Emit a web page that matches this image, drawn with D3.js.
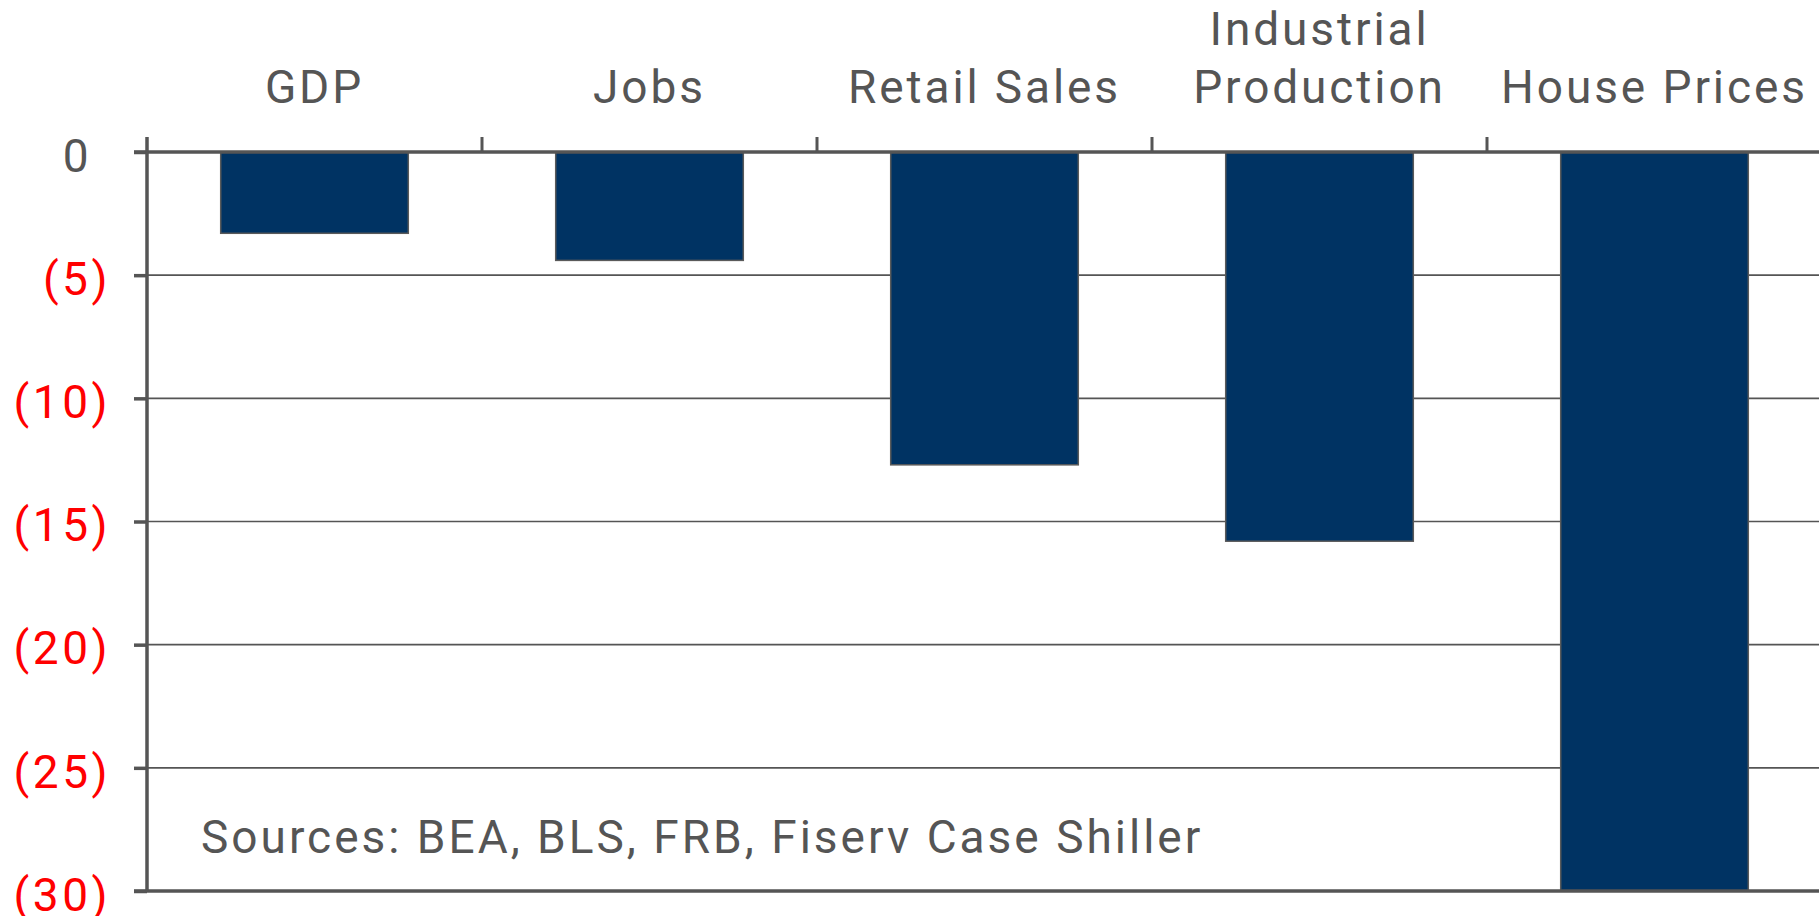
<!DOCTYPE html>
<html>
<head>
<meta charset="utf-8">
<script src="https://cdn.jsdelivr.net/npm/d3@7"></script>
<style>
  html, body { margin: 0; padding: 0; background: #fff; overflow: hidden; }
  text { font-family: Roboto, "Liberation Sans", sans-serif; }
</style>
</head>
<body>
<svg id="chart" width="1819" height="916"></svg>
<script>
// categories and values (percent change, peak to trough)
var categories = ["GDP", "Jobs", "Retail Sales", "Industrial Production", "House Prices"];
var labelLines = [["GDP"], ["Jobs"], ["Retail Sales"], ["Industrial", "Production"], ["House Prices"]];
var values = [-3.3, -4.4, -12.7, -15.8, -30];
var yTicks = [0, -5, -10, -15, -20, -25, -30];
var sourceNote = "Sources: BEA, BLS, FRB, Fiserv Case Shiller";

var svg = d3.select("#chart"),
    width = +svg.attr("width"),
    height = +svg.attr("height");

var margin = {top: 152, left: 147, bottom: 25};
var plotRight = 1822;

var x = d3.scaleBand()
    .domain(categories)
    .range([margin.left, plotRight])
    .paddingInner(0.44)
    .paddingOuter(0.22);

// band boundaries for the category ticks
var step = x.step();
var bounds = d3.range(categories.length + 1).map(function(i) {
    return margin.left + i * step;
});

var y = d3.scaleLinear()
    .domain([0, -30])
    .range([margin.top, height - margin.bottom]);

var grey = "#555555";

// gridlines
svg.append("g")
    .attr("class", "grid")
    .selectAll("line")
    .data(yTicks.filter(function(d) { return d !== 0 && d !== -30; }))
    .enter().append("line")
    .attr("x1", margin.left)
    .attr("x2", width)
    .attr("y1", function(d) { return y(d); })
    .attr("y2", function(d) { return y(d); })
    .attr("stroke", grey)
    .attr("stroke-width", 1.6);

// bars
svg.append("g")
    .attr("class", "bars")
    .selectAll("rect")
    .data(values)
    .enter().append("rect")
    .attr("x", function(d, i) { return x(categories[i]); })
    .attr("width", x.bandwidth())
    .attr("y", y(0))
    .attr("height", function(d) { return y(d) - y(0); })
    .attr("fill", "#003363")
    .attr("stroke", "#5a5a5a")
    .attr("stroke-width", 1.5);

// y axis with ticks on the left
var yAxis = d3.axisLeft(y)
    .tickValues(yTicks)
    .tickSize(13)
    .tickPadding(23)
    .tickFormat(function(d) { return d === 0 ? "0" : "(" + (-d) + ")"; });

var gy = svg.append("g")
    .attr("transform", "translate(" + margin.left + ",0)")
    .call(yAxis);

gy.select(".domain").remove();
gy.selectAll(".tick line")
    .attr("stroke", grey)
    .attr("stroke-width", 3.5);
gy.selectAll(".tick text")
    .style("font-size", "46px")
    .style("letter-spacing", "3.5px")
    .attr("dy", "0.42em")
    // positive numbers leave room for the closing parenthesis
    .attr("dx", function(d) { return d === 0 ? -19 : 0; })
    .attr("fill", function(d) { return d === 0 ? grey : "#ff0000"; });

// horizontal axis lines at 0 and at the bottom
svg.append("g")
    .selectAll("line")
    .data([0, -30])
    .enter().append("line")
    .attr("x1", margin.left - 13)
    .attr("x2", width)
    .attr("y1", function(d) { return y(d); })
    .attr("y2", function(d) { return y(d); })
    .attr("stroke", grey)
    .attr("stroke-width", 3.5);

// vertical axis line
svg.append("line")
    .attr("x1", margin.left)
    .attr("x2", margin.left)
    .attr("y1", y(0) - 15)
    .attr("y2", y(-30))
    .attr("stroke", grey)
    .attr("stroke-width", 3.5);

// category ticks pointing up
svg.append("g")
    .selectAll("line")
    .data(bounds.slice(1))
    .enter().append("line")
    .attr("x1", function(d) { return d; })
    .attr("x2", function(d) { return d; })
    .attr("y1", y(0))
    .attr("y2", y(0) - 15)
    .attr("stroke", grey)
    .attr("stroke-width", 3);

// category labels above the plot
var lineHeight = 58;
var labels = svg.append("g")
    .selectAll("text")
    .data(categories)
    .enter().append("text")
    .attr("x", function(d) { return x(d) + x.bandwidth() / 2; })
    .attr("y", 103)
    .attr("text-anchor", "middle")
    .attr("fill", grey)
    .style("font-size", "46px")
    .style("letter-spacing", "2.9px");

labels.each(function(d, i) {
    var lines = labelLines[i];
    var t = d3.select(this);
    lines.forEach(function(s, j) {
        t.append("tspan")
            .attr("x", x(d) + x.bandwidth() / 2)
            .attr("dy", j === 0 ? -(lines.length - 1) * lineHeight : lineHeight)
            .text(s);
    });
});

// source note
svg.append("text")
    .attr("x", 201)
    .attr("y", 853)
    .attr("fill", grey)
    .style("font-size", "46px")
    .style("letter-spacing", "3px")
    .text(sourceNote);
</script>
</body>
</html>
